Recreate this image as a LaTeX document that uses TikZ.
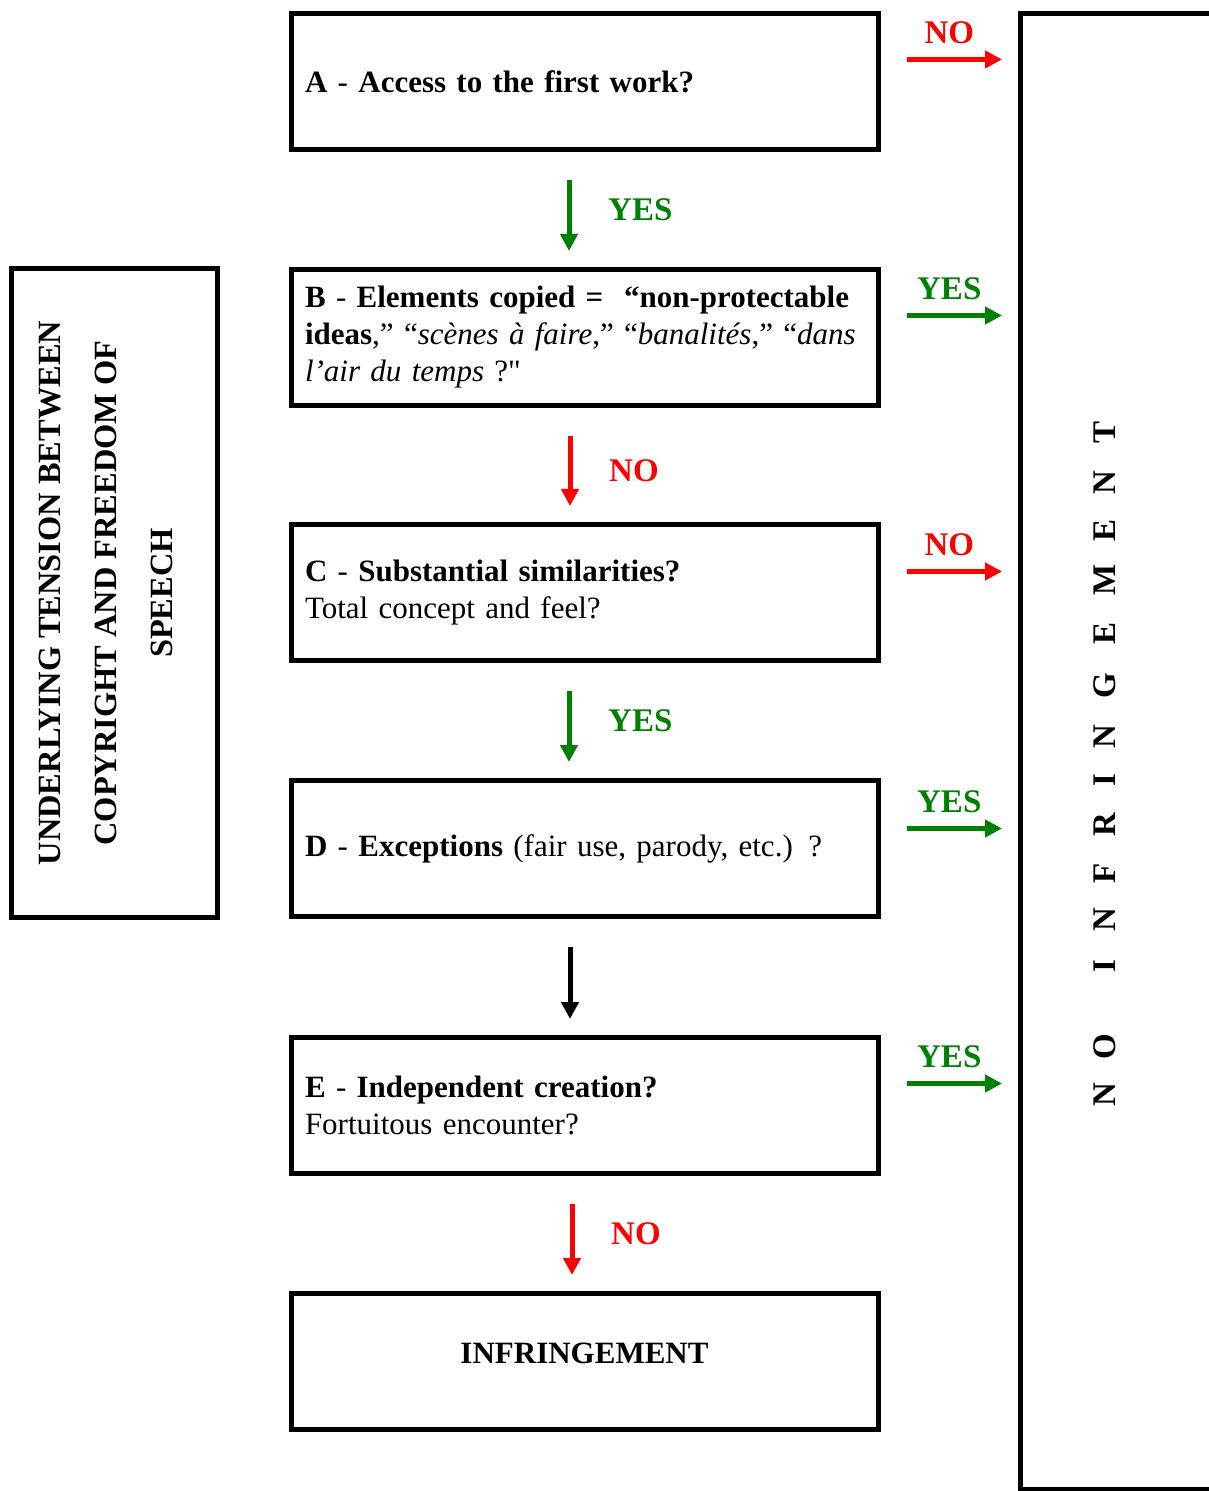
\documentclass[tikz,border=0pt]{standalone}
\usepackage{fontspec}
\setmainfont{Liberation Serif}
\usetikzlibrary{arrows.meta}

\definecolor{yesgreen}{RGB}{0,128,0}
\definecolor{nored}{RGB}{255,0,0}
\newcommand{\straightquote}{\XeTeXglyph\XeTeXcharglyph"22\relax}

\tikzset{
  qbox/.style={draw, line width=2.5pt, minimum width=293.5pt, minimum height=68pt,
    text width=279.5pt, inner xsep=7pt, align=left,
    font=\fontsize{15.5}{18.5}\selectfont},
  sidebox/.style={draw, line width=2.5pt, inner sep=0pt},
  flow/.style={line width=2.5pt, -{Triangle[length=8.5pt,width=8.5pt]}},
  yesarrow/.style={flow, draw=yesgreen},
  noarrow/.style={flow, draw=nored},
  plainarrow/.style={flow, draw=black},
  yeslabel/.style={text=yesgreen, font=\bfseries\fontsize{16.5}{18.5}\selectfont},
  nolabel/.style={text=nored, font=\bfseries\fontsize{16.5}{18.5}\selectfont},
  down/.style={shorten <=14pt, shorten >=8pt},
  across/.style={shorten <=13pt, shorten >=8pt}
}

\begin{document}
\begin{tikzpicture}[x=0.5pt,y=-0.5pt]
  \useasboundingbox (0,0) rectangle (1208,1491);

  % question boxes
  \node[qbox] (boxA) at (584.5,81.5)
    {\textbf{A} - \textbf{Access to the first work?}};
  \node[qbox] (boxB) at (584.5,337.5)
    {\textbf{B} - \textbf{Elements copied =\ \ “non-protectable}\\
     \textbf{ideas},” “\textit{scènes à faire},” “\textit{banalités},” “\textit{dans}\\
     \textit{l’air du temps} ?\straightquote};
  \node[qbox] (boxC) at (584.5,592.5)
    {\textbf{C} - \textbf{Substantial similarities?}\\Total concept and feel?};
  \node[qbox] (boxD) at (584.5,848.5)
    {\textbf{D} - \textbf{Exceptions} (fair use, parody, etc.) ?};
  \node[qbox] (boxE) at (584.5,1105.5)
    {\textbf{E} - \textbf{Independent creation?}\\Fortuitous encounter?};
  \node[qbox, align=center, text depth=8.5pt] (infr) at (584.5,1361.5)
    {\textbf{INFRINGEMENT}};

  % side boxes
  \node[sidebox, minimum width=103pt, minimum height=324.5pt] (tension) at (114.5,593) {};
  \node[rotate=90, align=center, font=\bfseries\fontsize{16.2}{28}\selectfont] (tensiontext) at (106,593)
    {UNDERLYING TENSION BETWEEN\\COPYRIGHT AND FREEDOM OF\\SPEECH};
  \node[sidebox, minimum width=119.75pt, minimum height=737.5pt] (noinf) at (1140.25,751.5) {};
  \foreach \ch/\yy [count=\i] in {N/1095,O/1047,I/966,N/920,F/873,R/825,I/780,N/737,G/686,E/633,M/580,E/530,N/483,T/432}
    \node[rotate=90, font=\bfseries\fontsize{16.5}{18.5}\selectfont] (ltr\i) at (1105,\yy) {\ch};

  % down the chain
  \draw[yesarrow, down] ([xshift=-7.75pt]boxA.south) -- ([xshift=-7.75pt]boxB.north)
    node[yeslabel, midway, right=15pt] {YES};
  \draw[noarrow, down] ([xshift=-7.25pt]boxB.south) -- ([xshift=-7.25pt]boxC.north)
    node[nolabel, midway, right=15pt, yshift=-3pt] {NO};
  \draw[yesarrow, down] ([xshift=-7.75pt]boxC.south) -- ([xshift=-7.75pt]boxD.north)
    node[yeslabel, midway, right=15pt] {YES};
  \draw[plainarrow, down] ([xshift=-7.25pt]boxD.south) -- ([xshift=-7.25pt]boxE.north);
  \draw[noarrow, down] ([xshift=-6.25pt]boxE.south) -- ([xshift=-6.25pt]infr.north)
    node[nolabel, midway, right=15pt] {NO};

  % out to no infringement
  \draw[noarrow, across] ([yshift=11pt]boxA.east) -- ([yshift=11pt]boxA.east -| noinf.west)
    node[nolabel, midway, above=3.5pt] {NO};
  \draw[yesarrow, across] ([yshift=11pt]boxB.east) -- ([yshift=11pt]boxB.east -| noinf.west)
    node[yeslabel, midway, above=3.5pt] {YES};
  \draw[noarrow, across] ([yshift=10.5pt]boxC.east) -- ([yshift=10.5pt]boxC.east -| noinf.west)
    node[nolabel, midway, above=3.5pt] {NO};
  \draw[yesarrow, across] ([yshift=10pt]boxD.east) -- ([yshift=10pt]boxD.east -| noinf.west)
    node[yeslabel, midway, above=3.5pt] {YES};
  \draw[yesarrow, across] ([yshift=11pt]boxE.east) -- ([yshift=11pt]boxE.east -| noinf.west)
    node[yeslabel, midway, above=3.5pt] {YES};

\end{tikzpicture}
\end{document}
